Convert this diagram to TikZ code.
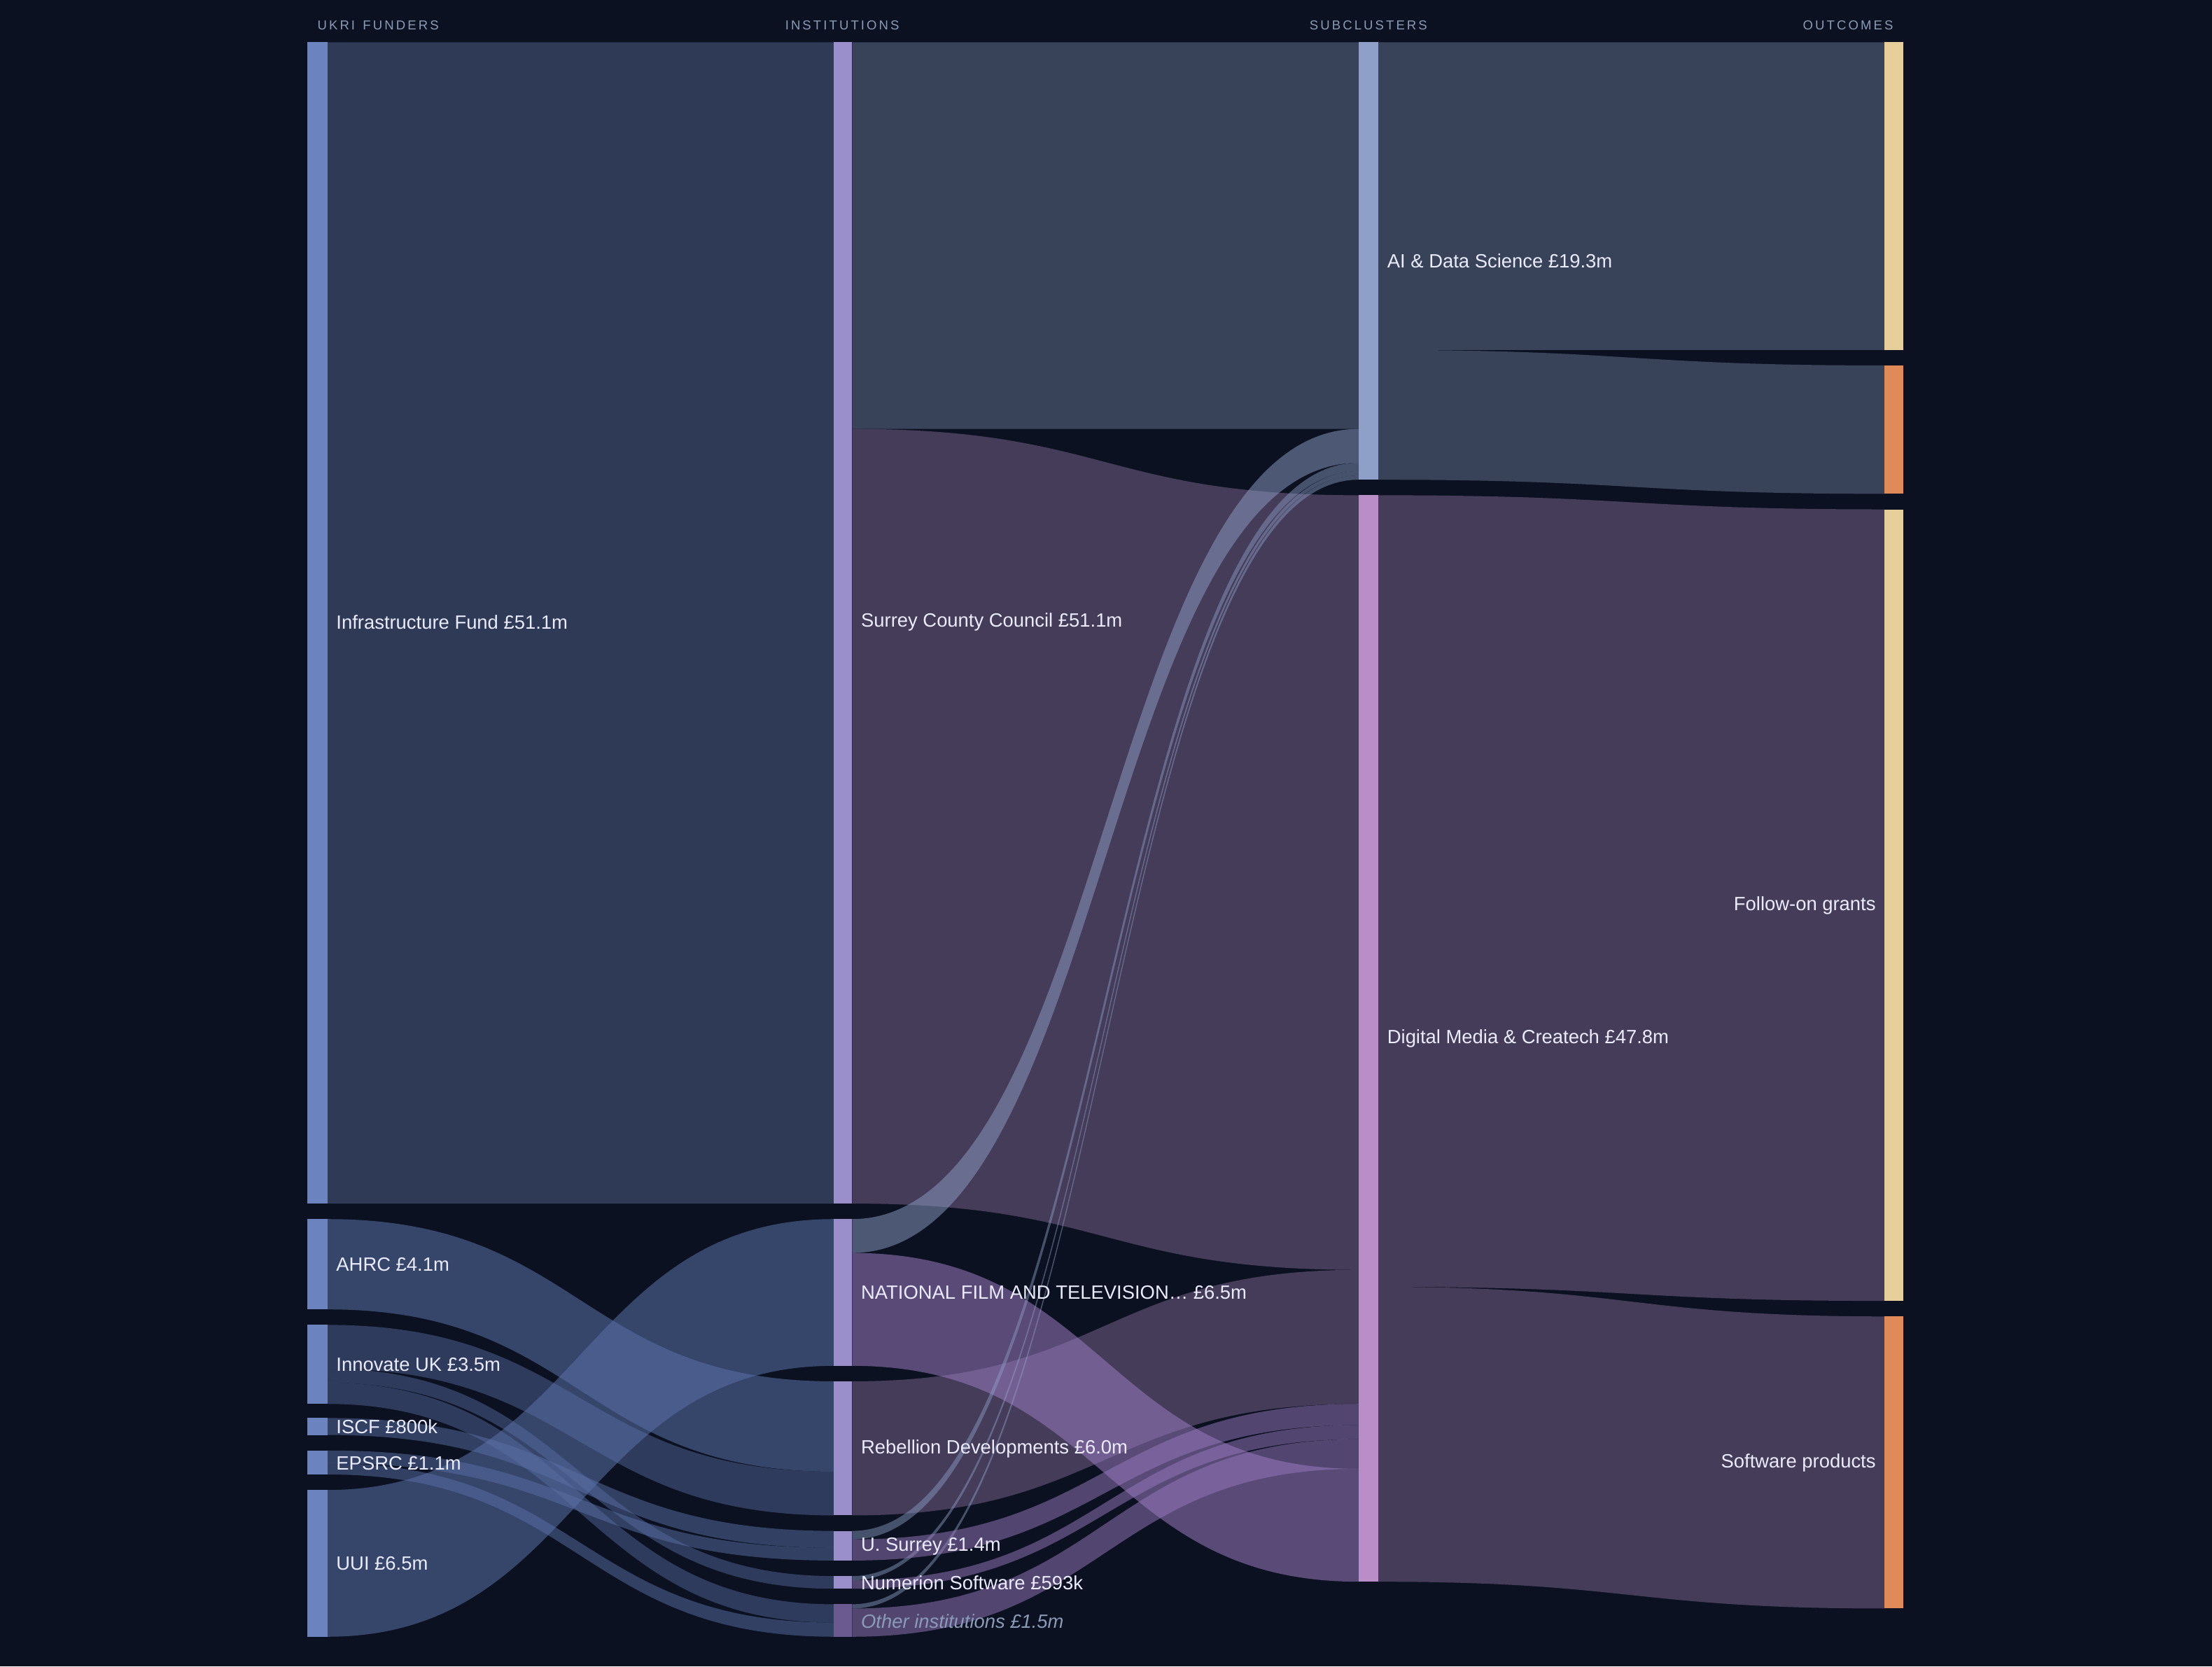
\documentclass[tikz,border=0pt]{standalone}
\usepackage{fontspec}
\setmainfont{Liberation Sans}
\begin{document}
\begin{tikzpicture}[x=0.5pt,y=-0.5pt,
  lab/.style={anchor=west,text=white!92!blue,font=\fontsize{6.8}{8}\selectfont,inner sep=0pt},
  labr/.style={anchor=east,text=white!92!blue,font=\fontsize{6.8}{8}\selectfont,inner sep=0pt},
  hdr/.style={text=hdrc,font=\fontsize{4.6}{5}\selectfont,inner sep=0pt}]
\definecolor{bg}{HTML}{0B1120}
\definecolor{hdrc}{HTML}{8A9BB8}
\definecolor{fA}{HTML}{6B84C0}
\definecolor{fB}{HTML}{9B8FCB}
\definecolor{fO}{HTML}{6A5A90}
\definecolor{cAI}{HTML}{8EA0C8}
\definecolor{cDM}{HTML}{B98DC8}
\definecolor{tan}{HTML}{E6CF9A}
\definecolor{org}{HTML}{E08A5A}
\definecolor{lInf}{HTML}{2E3A56}
\definecolor{lAI}{HTML}{384259}
\definecolor{lDM}{HTML}{453C5A}
\definecolor{lBl}{HTML}{5A70A8}
\definecolor{lPu}{HTML}{9A7AC0}
\fill[bg] (0,0) rectangle (1568,1181);
\useasboundingbox (0,0) rectangle (1568,1181);
% flow: color, opacity, x1, a, b, x2, c, d
\def\flow#1#2#3#4#5#6#7#8{%
  \pgfmathsetmacro\mx{(#3+#6)/2}%
  \fill[#1,fill opacity=#2] (#3,#4) .. controls (\mx,#4) and (\mx,#7) .. (#6,#7) -- (#6,#8) .. controls (\mx,#8) and (\mx,#5) .. (#3,#5) -- cycle;}
% col1 -> col2
\flow{lInf}{1}{232}{30}{853}{591}{30}{853}
\flow{lBl}{0.55}{232}{1056}{1160}{591}{864}{968}
\flow{lBl}{0.55}{232}{864}{928}{591}{979}{1043}
\flow{lBl}{0.45}{232}{939}{970}{591}{1043}{1074}
\flow{lBl}{0.45}{232}{970}{980}{591}{1117}{1126}
\flow{lBl}{0.45}{232}{980}{995}{591}{1137}{1150}
\flow{lBl}{0.5}{232}{1005}{1017}{591}{1085}{1097}
\flow{lBl}{0.5}{232}{1028}{1037}{591}{1097}{1106}
\flow{lBl}{0.5}{232}{1037}{1045}{591}{1150}{1160}
% col2 -> col3
\flow{lAI}{1}{604}{30}{304}{963}{30}{304}
\flow{lDM}{1}{604}{304}{853}{963}{351}{900}
\flow{lDM}{1}{604}{979}{1074}{963}{900}{995}
\flow{lPu}{0.55}{604}{888}{968}{963}{1041}{1121}
\flow{cAI}{0.5}{604}{864}{888}{963}{304}{328}
\flow{cAI}{0.45}{604}{1085}{1091}{963}{328}{334}
\flow{cAI}{0.45}{604}{1117}{1120}{963}{334}{337}
\flow{cAI}{0.45}{604}{1137}{1140}{963}{337}{340}
\flow{lPu}{0.5}{604}{1091}{1106}{963}{995}{1010}
\flow{lPu}{0.5}{604}{1120}{1126}{963}{1010}{1020}
\flow{lPu}{0.5}{604}{1140}{1160}{963}{1020}{1041}
% col3 -> col4
\flow{lAI}{1}{977}{30}{248}{1336}{30}{248}
\flow{lAI}{1}{977}{248}{340}{1336}{259}{350}
\flow{lDM}{1}{977}{351}{912}{1336}{361}{922}
\flow{lDM}{1}{977}{912}{1121}{1336}{933}{1140}
% bars
\fill[fA] (218,30) rectangle (232,853);
\fill[fA] (218,864) rectangle (232,928);
\fill[fA] (218,939) rectangle (232,995);
\fill[fA] (218,1005) rectangle (232,1017);
\fill[fA] (218,1028) rectangle (232,1045);
\fill[fA] (218,1056) rectangle (232,1160);
\fill[fB] (591,30) rectangle (604,853);
\fill[fB] (591,864) rectangle (604,968);
\fill[fB] (591,979) rectangle (604,1074);
\fill[fB] (591,1085) rectangle (604,1106);
\fill[fB] (591,1117) rectangle (604,1126);
\fill[fO] (591,1137) rectangle (604,1160);
\fill[cAI] (963,30) rectangle (977,340);
\fill[cDM] (963,351) rectangle (977,1121);
\fill[tan] (1336,30) rectangle (1349,248);
\fill[org] (1336,259) rectangle (1349,350);
\fill[tan] (1336,361) rectangle (1349,922);
\fill[org] (1336,933) rectangle (1349,1140);
% headers
\node[hdr] (h1) at (268,18) {U\,K\,R\,I\, \,F\,U\,N\,D\,E\,R\,S};
\node[hdr] (h2) at (597,18) {I\,N\,S\,T\,I\,T\,U\,T\,I\,O\,N\,S};
\node[hdr] (h3) at (970,18) {S\,U\,B\,C\,L\,U\,S\,T\,E\,R\,S};
\node[hdr] (h4) at (1310,18) {O\,U\,T\,C\,O\,M\,E\,S};
% labels
\node[lab] (l1) at (238,441) {Infrastructure Fund £51.1m};
\node[lab] (l2) at (238,896) {AHRC £4.1m};
\node[lab] (l3) at (238,967) {Innovate UK £3.5m};
\node[lab] (l4) at (238,1011) {ISCF £800k};
\node[lab] (l5) at (238,1037) {EPSRC £1.1m};
\node[lab] (l6) at (238,1108) {UUI £6.5m};
\node[lab] (m1) at (610,441) {Surrey County Council £51.1m};
\node[lab] (m2) at (610,916) {NATIONAL FILM AND TELEVISION… £6.5m};
\node[lab] (m3) at (610,1027) {Rebellion Developments £6.0m};
\node[lab] (m4) at (610,1096) {U. Surrey £1.4m};
\node[lab] (m5) at (610,1122) {Numerion Software £593k};
\node[lab,text=hdrc,font=\fontsize{6.8}{8}\selectfont\itshape] (m6) at (610,1149) {Other institutions £1.5m};
\node[lab] (s1) at (983,185) {AI \& Data Science £19.3m};
\node[lab] (s2) at (983,736) {Digital Media \& Createch £47.8m};
\node[labr] (o1) at (1330,642) {Follow-on grants};
\node[labr] (o2) at (1330,1037) {Software products};
\end{tikzpicture}
\end{document}
